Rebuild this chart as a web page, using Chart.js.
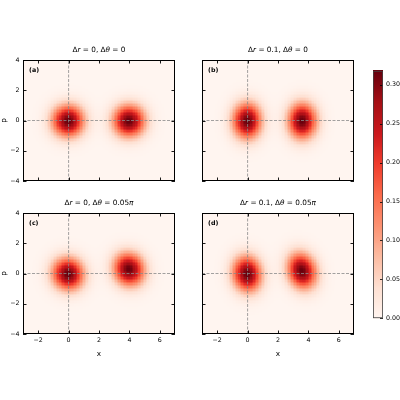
<!DOCTYPE html>
<html>
<head>
<meta charset="utf-8">
<script src="https://cdn.jsdelivr.net/npm/chart.js@4"></script>
<style>
  html, body { margin: 0; padding: 0; background: #fff; overflow: hidden; }
  body { width: 400px; height: 400px; position: relative; }
  canvas { position: absolute; }
</style>
</head>
<body>
<script>
// axes
const xRange = [-3, 7];
const pRange = [-4, 4];
const xTicks = [-2, 0, 2, 4, 6];
const pTicks = [-4, -2, 0, 2, 4];
const colorbarTicks = [0, 0.05, 0.10, 0.15, 0.20, 0.25, 0.30];
const colorbarMax = 0.318;

// panel texts
const panelNames = ['(a)', '(b)', '(c)', '(d)'];
const panelTitles = [
  [['Δ', ''], ['r', 'italic'], [' = 0, Δ', ''], ['θ', 'italic'], [' = 0', '']],
  [['Δ', ''], ['r', 'italic'], [' = 0.1, Δ', ''], ['θ', 'italic'], [' = 0', '']],
  [['Δ', ''], ['r', 'italic'], [' = 0, Δ', ''], ['θ', 'italic'], [' = 0.05', ''], ['π', 'italic']],
  [['Δ', ''], ['r', 'italic'], [' = 0.1, Δ', ''], ['θ', 'italic'], [' = 0.05', ''], ['π', 'italic']]
];

// blobs: [x centre, p centre, x spread, p spread, tilt (rad), peak]
const blobsA = [[0, 0, 1.0, 1.0, 0, 0.318], [4.0, 0, 1.0, 1.0, 0, 0.318]];
const blobsB = [[0, 0, 0.80, 1.25, 0, 0.318], [3.62, 0, 0.80, 1.25, 0, 0.318]];
const blobsC = [[0, 0, 0.95, 1.05, 0.5, 0.318], [4.0, 0.3, 0.90, 1.10, 0.4, 0.318]];
const blobsD = [[0, 0, 0.80, 1.25, 0.15, 0.318], [3.6, 0.2, 0.78, 1.28, 0.3, 0.318]];

const cellStep = 0.1;
const FONT = '"DejaVu Sans", sans-serif';

// matplotlib "Reds"
const redsStops = ['#fff5f0', '#fee0d2', '#fcbba1', '#fc9272', '#fb6a4a', '#ef3b2c', '#cb181d', '#a50f15', '#67000d'];
const redsRgb = redsStops.map(h => [1, 3, 5].map(k => parseInt(h.substr(k, 2), 16)));
function reds(t) {
  t = Math.max(0, Math.min(1, t)) * (redsRgb.length - 1);
  const i = Math.min(Math.floor(t), redsRgb.length - 2);
  const f = t - i;
  const c = redsRgb[i].map((v, k) => Math.round(v + (redsRgb[i + 1][k] - v) * f));
  return `rgb(${c[0]},${c[1]},${c[2]})`;
}

function density(blobs, x, p) {
  let sum = 0;
  blobs.forEach(([x0, p0, sx, sp, tilt, peak]) => {
    const dx = x - x0, dp = p - p0;
    const u = dx * Math.cos(tilt) + dp * Math.sin(tilt);
    const v = -dx * Math.sin(tilt) + dp * Math.cos(tilt);
    sum += peak * Math.exp(-(u * u / sx + v * v / sp));
  });
  return sum;
}

const minus = v => (v < 0 ? '\u2212' + Math.abs(v) : String(v));

const heatmapPlugin = {
  id: 'heat',
  beforeDatasetsDraw(chart, args, opts) {
    const { ctx, chartArea: a, scales: { x, y } } = chart;
    ctx.save();
    ctx.beginPath();
    ctx.rect(a.left, a.top, a.width, a.height);
    ctx.clip();
    const nx = Math.round((xRange[1] - xRange[0]) / cellStep);
    const ny = Math.round((pRange[1] - pRange[0]) / cellStep);
    for (let i = 0; i < nx; i++) {
      const xa = xRange[0] + i * cellStep, xb = xa + cellStep;
      const px0 = Math.floor(x.getPixelForValue(xa)), px1 = Math.ceil(x.getPixelForValue(xb));
      for (let j = 0; j < ny; j++) {
        const pa = pRange[0] + j * cellStep, pb = pa + cellStep;
        const py0 = Math.floor(y.getPixelForValue(pb)), py1 = Math.ceil(y.getPixelForValue(pa));
        ctx.fillStyle = reds(density(opts.blobs, (xa + xb) / 2, (pa + pb) / 2) / colorbarMax);
        ctx.fillRect(px0, py0, px1 - px0, py1 - py0);
      }
    }
    ctx.restore();
  }
};

const framePlugin = {
  id: 'frame',
  afterDatasetsDraw(chart) {
    const { ctx, chartArea: a, scales: { x, y } } = chart;
    ctx.save();
    ctx.strokeStyle = '#000';
    ctx.lineWidth = 0.9;
    ctx.beginPath();
    xTicks.forEach(v => {
      const px = Math.round(x.getPixelForValue(v)) + 0.5;
      ctx.moveTo(px, a.bottom); ctx.lineTo(px, a.bottom - 3.5);
      ctx.moveTo(px, a.top); ctx.lineTo(px, a.top + 3.5);
    });
    pTicks.forEach(v => {
      const py = Math.round(y.getPixelForValue(v)) + 0.5;
      ctx.moveTo(a.left, py); ctx.lineTo(a.left + 3.5, py);
      ctx.moveTo(a.right, py); ctx.lineTo(a.right - 3.5, py);
    });
    ctx.stroke();
    ctx.lineWidth = 1;
    ctx.strokeRect(a.left + 0.5, a.top + 0.5, a.width - 1, a.height - 1);
    ctx.restore();
  }
};

const titlePlugin = {
  id: 'mathTitle',
  afterDraw(chart, args, opts) {
    const { ctx, chartArea: a } = chart;
    ctx.save();
    ctx.fillStyle = '#000';
    ctx.textBaseline = 'middle';
    const font = s => `${s} 7.3px ${FONT}`;
    let total = 0;
    opts.parts.forEach(([t, s]) => { ctx.font = font(s); total += ctx.measureText(t).width; });
    let cx = (a.left + a.right) / 2 - total / 2;
    opts.parts.forEach(([t, s]) => {
      ctx.font = font(s);
      ctx.fillText(t, cx, a.top - 10);
      cx += ctx.measureText(t).width;
    });
    ctx.font = `bold 6.3px ${FONT}`;
    ctx.fillText(opts.name, a.left + 6, a.top + 10.5);
    ctx.restore();
  }
};

function makePanel(idx, left, top, blobs, showX, showY) {
  const padL = 23, padR = 3, padT = 20, padB = 26;
  const W = 152, H = 121;
  const canvas = document.createElement('canvas');
  canvas.width = padL + W + padR;
  canvas.height = padT + H + padB;
  canvas.style.left = (left - padL) + 'px';
  canvas.style.top = (top - padT) + 'px';
  document.body.appendChild(canvas);

  const dashed = {
    borderColor: '#8a8a8a', borderWidth: 0.8, borderDash: [3, 1.5],
    pointRadius: 0, showLine: true, fill: false
  };

  return new Chart(canvas, {
    type: 'scatter',
    data: {
      datasets: [
        { ...dashed, data: [{ x: 0, y: pRange[0] }, { x: 0, y: pRange[1] }] },
        { ...dashed, data: [{ x: xRange[0], y: 0 }, { x: xRange[1], y: 0 }] }
      ]
    },
    options: {
      responsive: false,
      animation: false,
      devicePixelRatio: 1,
      layout: { padding: { left: 0, right: padR, top: padT, bottom: 0 } },
      plugins: {
        legend: { display: false },
        tooltip: { enabled: false },
        heat: { blobs: blobs },
        mathTitle: { parts: panelTitles[idx], name: panelNames[idx] }
      },
      scales: {
        x: {
          type: 'linear', min: xRange[0], max: xRange[1],
          afterFit: s => { s.height = padB; },
          afterBuildTicks: s => { s.ticks = xTicks.map(v => ({ value: v })); },
          grid: { display: false, drawTicks: false },
          border: { display: false },
          ticks: { display: showX, padding: 3, color: '#000', maxRotation: 0, autoSkip: false,
                   font: { family: FONT, size: 6.3 }, callback: minus },
          title: { display: showX, text: 'x', color: '#000', font: { family: FONT, size: 7.3 },
                   padding: { top: 0, bottom: 2 } }
        },
        y: {
          type: 'linear', min: pRange[0], max: pRange[1],
          afterFit: s => { s.width = padL; },
          afterBuildTicks: s => { s.ticks = pTicks.map(v => ({ value: v })); },
          grid: { display: false, drawTicks: false },
          border: { display: false },
          ticks: { display: showY, padding: 3.5, color: '#000', autoSkip: false,
                   font: { family: FONT, size: 6.3 }, callback: minus },
          title: { display: showY, text: 'p', color: '#000', font: { family: FONT, size: 7.3 },
                   padding: { top: 0, bottom: 0 } }
        }
      }
    },
    plugins: [heatmapPlugin, framePlugin, titlePlugin]
  });
}

makePanel(0, 23, 60, blobsA, false, true);
makePanel(1, 202, 60, blobsB, false, false);
makePanel(2, 23, 213, blobsC, true, true);
makePanel(3, 202, 213, blobsD, true, false);

// colorbar
const colorbarPlugin = {
  id: 'colorbar',
  beforeDatasetsDraw(chart) {
    const { ctx, chartArea: a, scales: { y } } = chart;
    ctx.save();
    const steps = 250;
    for (let k = 0; k < steps; k++) {
      const v0 = colorbarMax * k / steps, v1 = colorbarMax * (k + 1) / steps;
      const y0 = Math.floor(y.getPixelForValue(v1)), y1 = Math.ceil(y.getPixelForValue(v0));
      ctx.fillStyle = reds((v0 + v1) / 2 / colorbarMax);
      ctx.fillRect(a.left, y0, a.width, y1 - y0);
    }
    ctx.strokeStyle = '#000';
    ctx.lineWidth = 0.8;
    ctx.beginPath();
    colorbarTicks.forEach(v => {
      const py = Math.round(y.getPixelForValue(v)) + 0.5;
      ctx.moveTo(a.right, py); ctx.lineTo(a.right - 3, py);
    });
    ctx.stroke();
    ctx.strokeStyle = '#444';
    ctx.strokeRect(a.left + 0.5, a.top + 0.5, a.width - 1, a.height - 1);
    ctx.restore();
  }
};

const cbCanvas = document.createElement('canvas');
cbCanvas.width = 10 + 27;
cbCanvas.height = 6 + 249 + 6;
cbCanvas.style.left = '373px';
cbCanvas.style.top = '64px';
document.body.appendChild(cbCanvas);

new Chart(cbCanvas, {
  type: 'scatter',
  data: { datasets: [{ data: [] }] },
  options: {
    responsive: false,
    animation: false,
    devicePixelRatio: 1,
    layout: { padding: { left: 0, right: 0, top: 6, bottom: 6 } },
    plugins: { legend: { display: false }, tooltip: { enabled: false } },
    scales: {
      x: { type: 'linear', min: 0, max: 1, display: false },
      y: {
        type: 'linear', position: 'right', min: 0, max: colorbarMax,
        afterFit: s => { s.width = 27; },
        afterBuildTicks: s => { s.ticks = colorbarTicks.map(v => ({ value: v })); },
        grid: { display: false, drawTicks: false },
        border: { display: false },
        ticks: { padding: 3, color: '#000', autoSkip: false,
                 font: { family: FONT, size: 6.3 }, callback: v => v.toFixed(2) }
      }
    }
  },
  plugins: [colorbarPlugin]
});
</script>
</body>
</html>
